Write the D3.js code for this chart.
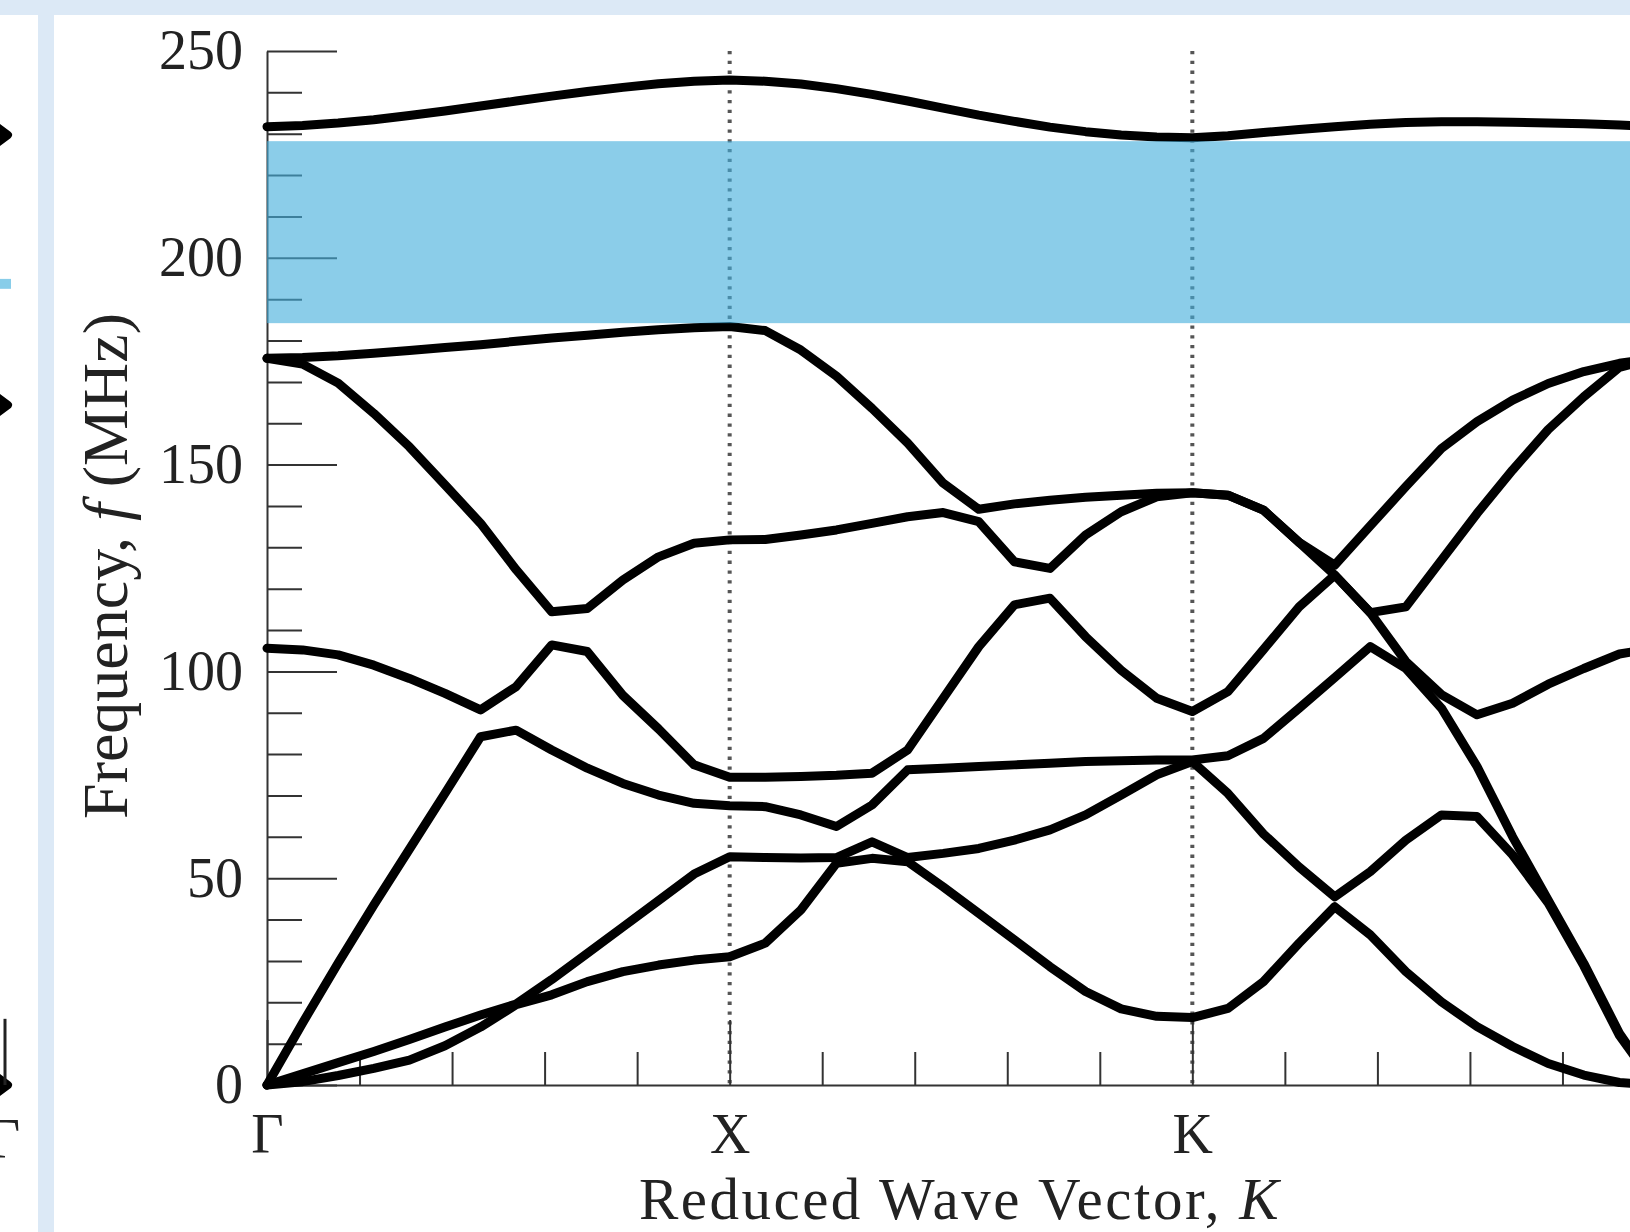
<!DOCTYPE html>
<html>
<head>
<meta charset="utf-8">
<script src="https://cdn.jsdelivr.net/npm/d3@7"></script>
<style>
  body { margin: 0; background: #fff; }
  svg { display: block; }
</style>
</head>
<body>
<div id="chart"></div>
<script>
// Frequências (MHz) de cada banda, 40 pontos: Γ (0) → X (13) → K (26) → Γ (39)
const band1 = [0, 0.8, 2.3, 4.0, 6.0, 9.5, 14.0, 19.4, 21.8, 25.0, 27.4, 29.0, 30.2, 31.0,
  34.3, 42.3, 53.6, 54.8, 54.0, 47.9, 41.5, 35.1, 28.6, 22.6, 18.4, 16.6, 16.3,
  18.5, 25.0, 34.3, 43.1, 36.3, 27.4, 20.1, 14.1, 9.3, 5.2, 2.4, 0.6, 0];
const band2 = [0, 2.7, 5.4, 8.1, 11.0, 14.0, 16.9, 19.6, 25.5, 31.8, 38.2, 44.6, 51.0, 55.2,
  55.0, 54.9, 55.0, 58.8, 55.0, 56.0, 57.2, 59.2, 61.7, 65.3, 70.1, 75.0, 78.2,
  70.5, 60.7, 52.7, 45.5, 51.6, 59.2, 65.3, 64.9, 55.6, 44.0, 28.8, 12.0, 0];
const band3 = [0, 15.0, 29.5, 43.5, 57.0, 70.5, 84.2, 85.8, 81.0, 76.6, 72.9, 70.1, 68.1, 67.5,
  67.3, 65.3, 62.5, 67.7, 76.2, 76.6, 77.0, 77.4, 77.8, 78.2, 78.4, 78.6, 78.6,
  79.6, 83.8, 91.1, 98.5, 106.0, 100.7, 91.1, 77.0, 60.0, 44.7, 29.4, 12.5, 0];
const band4 = [105.6, 105.2, 104.0, 101.5, 98.3, 94.7, 90.7, 96.3, 106.4, 104.8, 94.2, 86.1, 77.4, 74.4,
  74.4, 74.6, 74.9, 75.4, 81.0, 93.5, 106.0, 116.1, 117.7, 108.4, 100.3, 93.5, 90.3,
  95.1, 105.3, 115.6, 123.3, 114.2, 102.4, 94.4, 89.5, 92.3, 96.9, 100.7, 104.2, 105.6];
const band5 = [175.7, 174.3, 169.7, 162.4, 154.3, 145.1, 135.8, 124.6, 114.4, 115.2, 122.1, 127.7, 131.0, 131.8,
  131.9, 133.0, 134.2, 135.8, 137.4, 138.4, 136.2, 126.5, 124.9, 133.0, 138.6, 142.2, 143.2,
  142.6, 139.0, 131.2, 123.3, 114.2, 115.6, 126.9, 138.2, 148.7, 158.5, 166.4, 173.5, 175.7];
const band6 = [175.7, 175.9, 176.3, 176.9, 177.6, 178.3, 179.0, 179.8, 180.6, 181.3, 182.0, 182.6, 183.1, 183.4,
  182.4, 177.7, 171.4, 163.6, 155.2, 145.5, 139.2, 140.5, 141.4, 142.1, 142.6, 143.1, 143.2,
  142.6, 139.0, 131.2, 125.7, 135.2, 144.7, 153.9, 160.4, 165.6, 169.6, 172.5, 174.5, 175.7];
const band7 = [231.7, 232.0, 232.6, 233.4, 234.4, 235.5, 236.7, 237.9, 239.1, 240.2, 241.2, 242.1, 242.7, 243.0,
  242.7, 242.0, 240.9, 239.5, 237.9, 236.2, 234.5, 233.0, 231.6, 230.5, 229.7, 229.2, 229.0,
  229.5, 230.3, 231.0, 231.7, 232.3, 232.7, 232.9, 232.9, 232.8, 232.6, 232.4, 232.1, 231.7];

// Band gap (MHz)
const gapLimits = [184.2, 228.2];

// Pontos de simetria e ticks
const symmetryLabels = ["Γ", "X", "K", "Γ"];
const symmetryK = [0, 13, 26, 39];
const minorK = [2.6, 5.2, 7.8, 10.4, 15.6, 18.2, 20.8, 23.4, 28.6, 31.2, 33.8, 36.4];
const majorFreq = [0, 50, 100, 150, 200, 250];
const minorFreq = [10, 20, 30, 40, 60, 70, 80, 90, 110, 120, 130, 140, 160, 170, 180, 190, 210, 220, 230, 240];

// Restos do painel vizinho (à esquerda)
const neighbourEnds = [229.7, 164.4, 0];
const neighbourGap = [192.5, 194.9];

const W = 1630, H = 1232;
const stripColor = "#dce9f6";
const serif = "Liberation Serif, Times New Roman, serif";

const svg = d3.select("#chart").append("svg")
  .attr("width", W).attr("height", H);

// Escalas
const x = d3.scaleLinear().domain([0, 39]).range([267, 1655]);
const y = d3.scaleLinear().domain([0, 250]).range([1085, 51]);

// Moldura azul clara
svg.append("rect").attr("x", 0).attr("y", 0).attr("width", W).attr("height", 15).attr("fill", stripColor);
svg.append("rect").attr("x", 38).attr("y", 15).attr("width", 16).attr("height", H - 15).attr("fill", stripColor);

// Painel vizinho cortado
const left = svg.append("g");
neighbourEnds.forEach((f) => {
  left.append("path")
    .attr("d", `M-4,${y(f) - 9} L8,${y(f)} L-4,${y(f) + 9}`)
    .attr("fill", "#000").attr("stroke", "#000").attr("stroke-width", 8)
    .attr("stroke-linejoin", "round");
});
left.append("line").attr("x1", 5).attr("x2", 5).attr("y1", y(16)).attr("y2", y(0))
  .attr("stroke", "#222").attr("stroke-width", 3);
left.append("rect").attr("x", 0).attr("width", 11)
  .attr("y", y(neighbourGap[1])).attr("height", y(neighbourGap[0]) - y(neighbourGap[1]))
  .attr("fill", "#88cde9");
left.append("text").attr("x", 4).attr("y", 1158).attr("text-anchor", "middle")
  .attr("font-family", serif).attr("font-size", 56)
  .attr("fill", "#222").text("Γ");

const plot = svg.append("g");

// Linhas pontilhadas em X e K
plot.selectAll(".sym-line")
  .data(symmetryK.slice(1, 3))
  .enter().append("line")
  .attr("class", "sym-line")
  .attr("x1", (d) => x(d)).attr("x2", (d) => x(d))
  .attr("y1", y(250)).attr("y2", y(0))
  .attr("stroke", "#555").attr("stroke-width", 4)
  .attr("stroke-dasharray", "3.3 6.5");

// Eixos
function styleAxis(g) {
  g.selectAll("path, line").attr("stroke", "#333").attr("stroke-width", 2);
  g.selectAll("text")
    .attr("font-family", serif)
    .attr("font-size", 56).attr("fill", "#222");
}

plot.append("g")
  .attr("transform", `translate(${x(0)},0)`)
  .call(d3.axisLeft(y).tickValues(minorFreq).tickSize(-35).tickSizeOuter(0).tickFormat(""))
  .call((g) => g.select(".domain").remove())
  .call(styleAxis);

plot.append("g")
  .attr("transform", `translate(${x(0)},0)`)
  .call(d3.axisLeft(y).tickValues(majorFreq).tickSize(-70).tickSizeOuter(0).tickPadding(24))
  .call(styleAxis);

plot.append("g")
  .attr("transform", `translate(0,${y(0)})`)
  .call(d3.axisBottom(x).tickValues(minorK).tickSize(-33).tickSizeOuter(0).tickFormat(""))
  .call((g) => g.select(".domain").remove())
  .call(styleAxis);

// só os pontos de simetria que cabem na figura
const visibleSym = symmetryK.filter((k) => x(k) < W);
plot.append("g")
  .attr("transform", `translate(0,${y(0)})`)
  .call(d3.axisBottom(x).tickValues(visibleSym).tickSize(-65).tickSizeOuter(0).tickPadding(28)
    .tickFormat((d) => symmetryLabels[symmetryK.indexOf(d)]))
  .call(styleAxis);

// Bandas
const bands = [band1, band2, band3, band4, band5, band6, band7];
const line = d3.line().x((d, i) => x(i)).y((d) => y(d));

plot.selectAll(".band")
  .data(bands)
  .enter().append("path")
  .attr("class", "band")
  .attr("d", line)
  .attr("fill", "none")
  .attr("stroke", "#000")
  .attr("stroke-width", 9)
  .attr("stroke-linejoin", "round")
  .attr("stroke-linecap", "round");

// Faixa do band gap
plot.append("rect")
  .attr("x", x(0)).attr("width", W - x(0))
  .attr("y", y(gapLimits[1]))
  .attr("height", y(gapLimits[0]) - y(gapLimits[1]))
  .attr("fill", "rgb(67,174,220)")
  .attr("fill-opacity", 0.62);

// Títulos dos eixos
const xTitle = svg.append("text")
  .attr("x", 960).attr("y", 1219).attr("text-anchor", "middle")
  .attr("font-family", serif).attr("font-size", 59).attr("letter-spacing", 2.5)
  .attr("fill", "#222");
xTitle.append("tspan").text("Reduced Wave Vector, ");
xTitle.append("tspan").attr("font-style", "italic").text("K");

const yTitle = svg.append("text")
  .attr("transform", "translate(127,566) rotate(-90)")
  .attr("text-anchor", "middle")
  .attr("font-family", serif).attr("font-size", 64).attr("fill", "#222");
yTitle.append("tspan").text("Frequency, ");
yTitle.append("tspan").attr("font-style", "italic").text("f");
yTitle.append("tspan").text(" (MHz)");
</script>
</body>
</html>
